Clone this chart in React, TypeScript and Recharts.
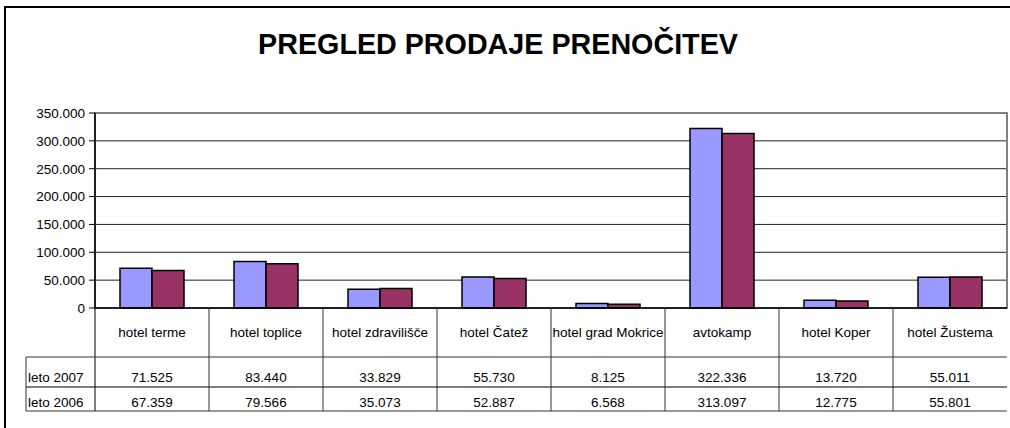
import React from 'react';
import { BarChart, Bar, XAxis, YAxis, CartesianGrid, ReferenceArea } from 'recharts';

const categories = [
  'hotel terme',
  'hotel toplice',
  'hotel zdravilišče',
  'hotel Čatež',
  'hotel grad Mokrice',
  'avtokamp',
  'hotel Koper',
  'hotel Žustema',
];
const leto2007 = [71525, 83440, 33829, 55730, 8125, 322336, 13720, 55011];
const leto2006 = [67359, 79566, 35073, 52887, 6568, 313097, 12775, 55801];
const seriesNames = ['leto 2007', 'leto 2006'];
const yTicks = [0, 50000, 100000, 150000, 200000, 250000, 300000, 350000];
const title = 'PREGLED PRODAJE PRENOČITEV';

const data = categories.map((c, i) => ({ name: c, l2007: leto2007[i], l2006: leto2006[i] }));

const FONT = '"Liberation Sans", Arial, Helvetica, sans-serif';
const W = 1010;
const H = 428;
const MARGIN = { top: 113, right: 3, bottom: 10, left: 0 };
const Y_AXIS_W = 95;
const X_AXIS_H = 110;
const PLOT_W = W - MARGIN.left - MARGIN.right - Y_AXIS_W;
const BAND = PLOT_W / categories.length;

const fmt = (n: number) => String(n).replace(/\B(?=(\d{3})+(?!\d))/g, '.');

const ROW_CAT = 49;
const ROW_1 = 79;
const ROW_2 = 103;
const LEFT_COL_W = 69;
const LINE = '#333';

function TableTick(props: any) {
  const { x, y, payload } = props;
  const i = payload && payload.index != null ? payload.index : props.index;
  const half = BAND / 2;
  const x0 = x - half;
  const x1 = x + half;
  const isFirst = i === 0;
  return (
    <g>
      <line x1={x0} y1={y} x2={x0} y2={y + ROW_2} stroke={isFirst ? '#000' : LINE} strokeWidth={1} />
      <line x1={x0} y1={y + ROW_CAT} x2={x1} y2={y + ROW_CAT} stroke={LINE} strokeWidth={1} />
      <line x1={x0} y1={y + ROW_1} x2={x1} y2={y + ROW_1} stroke="#000" strokeWidth={1} />
      <line x1={x0} y1={y + ROW_2} x2={x1} y2={y + ROW_2} stroke={LINE} strokeWidth={1} />
      <text x={x} y={y + 29} textAnchor="middle" fontSize={13.5} fontFamily={FONT} fill="#000">
        {categories[i]}
      </text>
      <text x={x} y={y + 74} textAnchor="middle" fontSize={13.5} fontFamily={FONT} fill="#000">
        {fmt(leto2007[i])}
      </text>
      <text x={x} y={y + 98.5} textAnchor="middle" fontSize={13.5} fontFamily={FONT} fill="#000">
        {fmt(leto2006[i])}
      </text>
      {isFirst && (
        <g>
          <line x1={x0 - LEFT_COL_W} y1={y + ROW_CAT} x2={x0 - LEFT_COL_W} y2={y + ROW_2} stroke={LINE} strokeWidth={1} />
          <line x1={x0 - LEFT_COL_W} y1={y + ROW_CAT} x2={x0} y2={y + ROW_CAT} stroke={LINE} strokeWidth={1} />
          <line x1={x0 - LEFT_COL_W} y1={y + ROW_1} x2={x0} y2={y + ROW_1} stroke="#000" strokeWidth={1} />
          <line x1={x0 - LEFT_COL_W} y1={y + ROW_2} x2={x0} y2={y + ROW_2} stroke={LINE} strokeWidth={1} />
          <text x={x0 - LEFT_COL_W + 2} y={y + 74} fontSize={13.5} fontFamily={FONT} fill="#000">
            {seriesNames[0]}
          </text>
          <text x={x0 - LEFT_COL_W + 2} y={y + 98.5} fontSize={13.5} fontFamily={FONT} fill="#000">
            {seriesNames[1]}
          </text>
        </g>
      )}
    </g>
  );
}

export default function App() {
  return (
    <div style={{ position: 'absolute', left: 0, top: 0, width: W, height: H, overflow: 'hidden', background: '#fff' }}>
      <div
        style={{
          position: 'absolute',
          left: 4,
          top: 6,
          width: W + 20,
          height: H + 20,
          border: '2px solid #000',
          boxSizing: 'border-box',
        }}
      />
      <div
        style={{
          position: 'absolute',
          left: 0,
          top: 28,
          width: 996,
          textAlign: 'center',
          fontFamily: FONT,
          fontWeight: 'bold',
          fontSize: 28.7,
          lineHeight: '32px',
          color: '#000',
          whiteSpace: 'nowrap',
        }}
      >
        {title}
      </div>
      <div style={{ position: 'absolute', left: 0, top: 0 }}>
        <BarChart width={W} height={H} data={data} margin={MARGIN} barGap={0} barSize={32}>
          <CartesianGrid horizontal vertical={false} stroke="#222" strokeWidth={1} />
          <ReferenceArea y1={0} y2={350000} fill="none" stroke="#808080" strokeWidth={2} ifOverflow="visible" />
          <XAxis
            dataKey="name"
            height={X_AXIS_H}
            tickLine={false}
            tickSize={0}
            tickMargin={0}
            axisLine={{ stroke: '#000', strokeWidth: 1.5 }}
            interval={0}
            tick={(p: any) => <TableTick {...p} />}
          />
          <YAxis
            width={Y_AXIS_W}
            domain={[0, 350000]}
            ticks={yTicks}
            interval={0}
            tickFormatter={(v: number) => fmt(v)}
            tickSize={6}
            tickMargin={4}
            tickLine={{ stroke: '#000' }}
            axisLine={{ stroke: '#000', strokeWidth: 1.5 }}
            tick={{ fill: '#000', fontSize: 13.5, fontFamily: FONT }}
          />
          <Bar dataKey="l2007" name={seriesNames[0]} fill="#9999FF" stroke="#000" strokeWidth={1.5} isAnimationActive={false} />
          <Bar dataKey="l2006" name={seriesNames[1]} fill="#993366" stroke="#000" strokeWidth={1.5} isAnimationActive={false} />
        </BarChart>
      </div>
    </div>
  );
}
